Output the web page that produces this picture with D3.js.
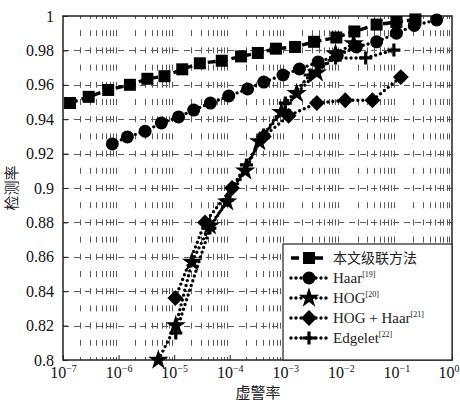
<!DOCTYPE html>
<html>
<head>
<meta charset="utf-8">
<script src="https://cdn.jsdelivr.net/npm/d3@7"></script>
<style>
  html, body { margin: 0; padding: 0; background: #fff; }
  svg { display: block; }
</style>
</head>
<body>
<svg id="chart" width="460" height="403"></svg>
<script>
// False-alarm rate (x) and detection rate (y) for each detector
const oursFpr  = [1.34e-7, 2.9e-7, 6.5e-7, 1.6e-6, 3.3e-6, 6.7e-6, 1.4e-5, 2.9e-5, 7.2e-5, 1.6e-4,
                  3.2e-4, 6.8e-4, 1.5e-3, 3.3e-3, 8.3e-3, 1.75e-2, 4.4e-2, 0.1, 0.22];
const oursDr   = [0.9494, 0.953, 0.957, 0.960, 0.9635, 0.965, 0.969, 0.9725, 0.974, 0.9765,
                  0.9785, 0.981, 0.982, 0.985, 0.9875, 0.991, 0.995, 0.9965, 0.998];

const haarFpr  = [7.7e-7, 1.44e-6, 3.0e-6, 5.9e-6, 1.2e-5, 2.25e-5, 4.5e-5, 9.6e-5, 2.1e-4, 4.1e-4,
                  9.1e-4, 1.8e-3, 3.9e-3, 8.6e-3, 1.9e-2, 4.4e-2, 0.1, 0.21, 0.53];
const haarDr   = [0.9256, 0.9297, 0.933, 0.9378, 0.9413, 0.9453, 0.9494, 0.9535, 0.9576, 0.9616,
                  0.9657, 0.9692, 0.9733, 0.977, 0.982, 0.985, 0.990, 0.9945, 0.9977];

const hogFpr   = [5.2e-6, 1.07e-5, 2.1e-5, 4.4e-5, 9.0e-5, 1.9e-4, 3.4e-4, 8.5e-4, 1.6e-3, 3.7e-3, 8.0e-3, 1.7e-2];
const hogDr    = [0.800, 0.820, 0.857, 0.878, 0.892, 0.910, 0.927, 0.944, 0.955, 0.967, 0.978, 0.984];

const hhFpr    = [1.05e-5, 3.6e-5, 1.1e-4, 4.1e-4, 1.15e-3, 3.7e-3, 1.2e-2, 3.7e-2, 0.12];
const hhDr     = [0.836, 0.880, 0.900, 0.930, 0.942, 0.9494, 0.951, 0.951, 0.9645];

const edgeFpr  = [1.07e-5, 4.4e-5, 9.0e-5, 2.0e-4, 4.1e-4, 1.0e-3, 2.8e-3, 8.0e-3, 2.8e-2, 0.09];
const edgeDr   = [0.8157, 0.8767, 0.893, 0.9134, 0.9308, 0.9494, 0.9657, 0.9756, 0.9756, 0.9802];

const seriesNames = ["本文级联方法", "Haar", "HOG", "HOG + Haar", "Edgelet"];
const seriesRefs  = ["", "[19]", "[20]", "[21]", "[22]"];
const xTickExps   = [-7, -6, -5, -4, -3, -2, -1, 0];
const yTickVals   = [0.8, 0.82, 0.84, 0.86, 0.88, 0.9, 0.92, 0.94, 0.96, 0.98, 1];
const yTickText   = ["0.8", "0.82", "0.84", "0.86", "0.88", "0.9", "0.92", "0.94", "0.96", "0.98", "1"];

const SERIF = '"Liberation Serif", "DejaVu Serif", serif';
const CJK = '"Noto Sans CJK SC", sans-serif';

const svg = d3.select("#chart");
const L = 63, R = 452, T = 16, B = 360;

const x = d3.scaleLog().domain([1e-7, 1]).range([L, R]);
const y = d3.scaleLinear().domain([0.8, 1]).range([B, T]);

// Grid: dashed vertical lines at every minor decade step, dashed horizontals at the y ticks
const grid = svg.append("g").attr("stroke", "#5a5a5a").attr("stroke-width", 1).attr("fill", "none");
const minorVals = [];
for (let e = -7; e < 0; e++) for (let m = 2; m <= 9; m++) minorVals.push(m * Math.pow(10, e));
const period = y(0.8) - y(0.81);
const dashLen = 6;
grid.selectAll("line.v").data(minorVals).join("line")
  .attr("x1", d => Math.round(x(d)) + 0.5).attr("x2", d => Math.round(x(d)) + 0.5)
  .attr("y1", B).attr("y2", T)
  .attr("stroke-dasharray", `${dashLen},${period - dashLen}`)
  .attr("stroke-dashoffset", dashLen / 2);
grid.selectAll("line.h").data(yTickVals.slice(1, -1)).join("line")
  .attr("x1", L).attr("x2", R)
  .attr("y1", d => Math.round(y(d)) + 0.5).attr("y2", d => Math.round(y(d)) + 0.5)
  .attr("stroke-dasharray", "6,5");

// Axes with inward ticks
const yAxis = d3.axisLeft(y).tickValues(yTickVals).tickSizeInner(-5).tickSizeOuter(0)
  .tickFormat((d, i) => yTickText[i]).tickPadding(9);
const gy = svg.append("g").attr("transform", `translate(${L},0)`).call(yAxis);
gy.select(".domain").remove();
gy.selectAll("line").attr("stroke", "#222");
gy.selectAll("text").style("font-family", SERIF).style("font-size", "16px").attr("fill", "#111");

const xAxis = d3.axisBottom(x).tickValues(xTickExps.map(e => Math.pow(10, e)))
  .tickSizeInner(-5).tickSizeOuter(0).tickFormat(() => "").tickPadding(6);
const gx = svg.append("g").attr("transform", `translate(0,${B})`).call(xAxis);
gx.select(".domain").remove();
gx.selectAll("line").attr("stroke", "#222");
gx.selectAll(".tick").each(function(d, i) {
  const last = i === xTickExps.length - 1;
  const t = d3.select(this).append("text")
    .style("font-family", SERIF).style("font-size", "16px").attr("fill", "#111")
    .attr("x", last ? 7 : 0).attr("y", 18).attr("text-anchor", last ? "end" : "middle");
  t.append("tspan").text("10");
  t.append("tspan").attr("dy", -6).style("font-size", "10px")
    .text(xTickExps[i] === 0 ? "0" : "\u2212" + (-xTickExps[i]));
});

// Frame
svg.append("rect").attr("x", L).attr("y", T).attr("width", R - L).attr("height", B - T)
  .attr("fill", "none").attr("stroke", "#222").attr("stroke-width", 1.5);

// Marker painters
const markers = {
  square: g => g.append("rect").attr("x", -6).attr("y", -6).attr("width", 12).attr("height", 12),
  circle: g => g.append("circle").attr("r", 6.5),
  star: g => g.append("path").attr("d", d3.symbol(d3.symbolStar, 130)()),
  diamond: g => g.append("rect").attr("x", -5.6).attr("y", -5.6).attr("width", 11.2).attr("height", 11.2)
                 .attr("transform", "rotate(45)"),
  plus: g => g.append("path").attr("d", "M-6.5,0H6.5M0,-6.5V6.5").attr("stroke", "#000").attr("stroke-width", 3.2)
};

const series = [
  { fpr: oursFpr, dr: oursDr, marker: "square", dash: "8,4", cap: "butt" },
  { fpr: haarFpr, dr: haarDr, marker: "circle", dash: "0,5", cap: "round" },
  { fpr: hogFpr,  dr: hogDr,  marker: "star",   dash: "0,5", cap: "round" },
  { fpr: hhFpr,   dr: hhDr,   marker: "diamond", dash: "0,5", cap: "round" },
  { fpr: edgeFpr, dr: edgeDr, marker: "plus",   dash: "0,5", cap: "round" }
];

const line = d3.line().x(d => x(d[0])).y(d => y(d[1]));
const plot = svg.append("g");

series.forEach(s => {
  const pts = s.fpr.map((f, i) => [f, s.dr[i]]);
  plot.append("path").datum(pts).attr("d", line)
    .attr("fill", "none").attr("stroke", "#000").attr("stroke-width", 3.4)
    .attr("stroke-dasharray", s.dash).attr("stroke-linecap", s.cap);
});
series.forEach(s => {
  const pts = s.fpr.map((f, i) => [f, s.dr[i]]);
  plot.selectAll(null).data(pts).join("g")
    .attr("transform", d => `translate(${x(d[0])},${y(d[1])})`)
    .attr("fill", "#000")
    .each(function() { markers[s.marker](d3.select(this)); });
});

// Legend
const lg = svg.append("g");
lg.append("rect").attr("x", 283).attr("y", 244).attr("width", R - 283).attr("height", B - 244)
  .attr("fill", "#fff").attr("stroke", "#222").attr("stroke-width", 1.2);
const rowY = [258, 278, 298, 318, 338];
series.forEach((s, i) => {
  const row = lg.append("g").attr("transform", `translate(0,${rowY[i]})`);
  row.append("line").attr("x1", 291).attr("x2", 327).attr("y1", 0).attr("y2", 0)
    .attr("stroke", "#000").attr("stroke-width", 3.4)
    .attr("stroke-dasharray", i === 0 ? "8,4" : "0,5").attr("stroke-linecap", s.cap);
  const m = row.append("g").attr("transform", "translate(309,0)").attr("fill", "#000");
  markers[s.marker](m);
  const t = row.append("text").attr("x", 333).attr("y", 5).attr("fill", "#222")
    .style("font-family", i === 0 ? CJK : SERIF).style("font-size", i === 0 ? "14px" : "15px")
    .text(seriesNames[i]);
  if (seriesRefs[i]) t.append("tspan").attr("dy", -6).style("font-size", "8px").text(seriesRefs[i]);
});

// Axis titles
svg.append("text").attr("x", 258).attr("y", 398).attr("text-anchor", "middle")
  .style("font-family", CJK).style("font-size", "15px").attr("fill", "#222").text("虚警率");
svg.append("text")
  .attr("transform", `translate(17,${(T + B) / 2}) rotate(-90)`).attr("text-anchor", "middle")
  .style("font-family", CJK).style("font-size", "15px").attr("fill", "#222").text("检测率");
</script>
</body>
</html>
